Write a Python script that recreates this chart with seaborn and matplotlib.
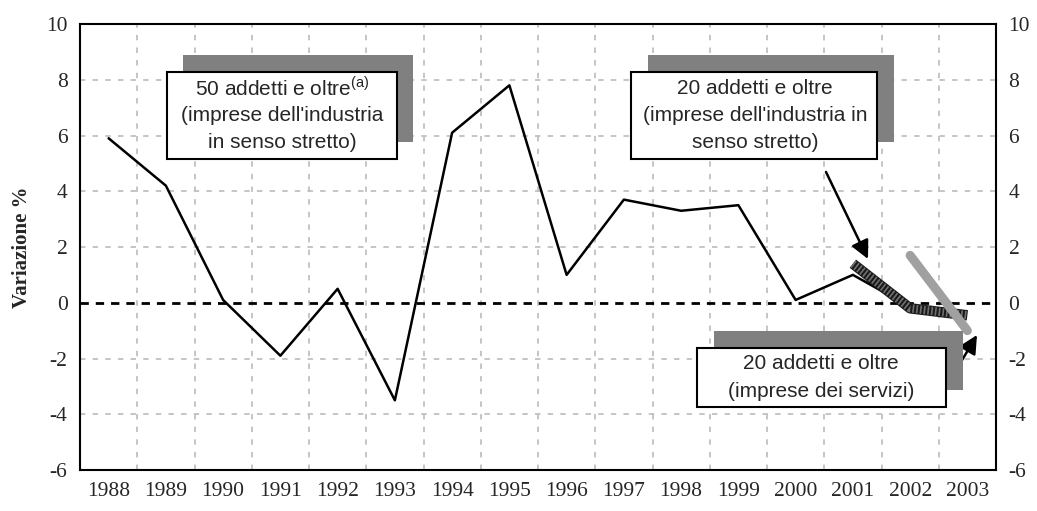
import numpy as np
import pandas as pd
import seaborn as sns
import matplotlib.pyplot as plt
from matplotlib.patches import Rectangle

# dati
anni = [1988, 1989, 1990, 1991, 1992, 1993, 1994, 1995, 1996, 1997, 1998, 1999, 2000, 2001, 2002]
var_50 = [5.9, 4.2, 0.1, -1.9, 0.5, -3.5, 6.1, 7.8, 1.0, 3.7, 3.3, 3.5, 0.1, 1.0, -0.15]
anni_20ind = [2001, 2002, 2003]
var_20ind = [1.4, -0.2, -0.45]
anni_20serv = [2002, 2003]
var_20serv = [1.7, -1.0]
tick_anni = list(range(1988, 2004))

W, H = 1037, 511
sns.set_style("white")
plt.rcParams['font.family'] = ['Liberation Serif', 'DejaVu Serif']
plt.rcParams['mathtext.fontset'] = 'custom'
plt.rcParams['mathtext.rm'] = 'Liberation Sans'
plt.rcParams['axes.unicode_minus'] = False

fig = plt.figure(figsize=(W / 100, H / 100), dpi=100)
ax = fig.add_axes([80 / W, 1 - 470 / H, (996 - 80) / W, (470 - 24) / H])

def px(x, y):
    # pixel dell'immagine -> frazione della figura
    return x / W, 1 - y / H

# griglia
for v in [-4, -2, 2, 4, 6, 8]:
    ax.axhline(v, color='#c0c0c0', lw=1.3, ls=(0, (3, 4)), zorder=0)
for a in np.arange(1988.5, 2003, 1):
    ax.axvline(a, color='#c0c0c0', lw=1.3, ls=(0, (3, 4)), zorder=0)
ax.axhline(0, color='black', lw=2, ls=(0, (3, 2.5)), zorder=1)

sns.lineplot(x=anni, y=var_50, color='black', lw=1.8, ax=ax, zorder=3)
sns.lineplot(x=anni_20ind, y=var_20ind, color='#1a1a1a', lw=7.5, ax=ax, zorder=4,
             solid_capstyle='butt')
ax.plot(anni_20ind, var_20ind, color='#707070', lw=6, ls=(0, (0.2, 0.25)),
        solid_capstyle='butt', zorder=5)
sns.lineplot(x=anni_20serv, y=var_20serv, color='#a0a0a0', lw=6.5, ax=ax, zorder=6,
             solid_capstyle='round')

ax.set_xlim(1987.5, 2003.5)
ax.set_ylim(-6, 10)
ax.set_xticks(tick_anni)
ax.set_xticklabels([str(a) for a in tick_anni], fontsize=15.5)
ax.set_yticks(range(-6, 11, 2))
ax.tick_params(axis='both', length=0, labelsize=15.5, pad=9)
ax.set_xlabel('')
ax.set_ylabel('Variazione %', fontsize=15, fontweight='bold', labelpad=10)
for s in ax.spines.values():
    s.set_linewidth(1.5)
    s.set_color('black')

ax2 = ax.twinx()
ax2.set_ylim(-6, 10)
ax2.set_yticks(range(-6, 11, 2))
ax2.tick_params(axis='y', length=0, labelsize=15.5, pad=9)
for s in ax2.spines.values():
    s.set_visible(False)

# riquadri con ombra
def riquadro(x0, y0, x1, y1, dx, dy):
    fx, fy = px(x0 + dx, y1 + dy)
    fig.patches.append(Rectangle((fx, fy), (x1 - x0) / W, (y1 - y0) / H,
                                 transform=fig.transFigure, facecolor='#808080',
                                 edgecolor='none', zorder=10))
    fx, fy = px(x0, y1)
    fig.patches.append(Rectangle((fx, fy), (x1 - x0) / W, (y1 - y0) / H,
                                 transform=fig.transFigure, facecolor='white',
                                 edgecolor='black', lw=1.5, zorder=11))

riquadro(167, 72, 397, 159, 16, -17)
riquadro(631, 72, 877, 159, 17, -17)
riquadro(697, 348, 946, 407, 17, -17)

fs = 15
def testo(x, y, s):
    fx, fy = px(x, y)
    fig.text(fx, fy, s, ha='center', va='center', fontsize=fs,
             family=['Liberation Sans', 'DejaVu Sans'], zorder=12)

testo(282, 88, r"50 addetti e oltre$^{\mathrm{(a)}}$")
testo(282, 115, "(imprese dell'industria")
testo(282, 142, "in senso stretto)")
testo(755, 88, "20 addetti e oltre")
testo(755, 115, "(imprese dell'industria in")
testo(755, 142, "senso stretto)")
testo(821, 363, "20 addetti e oltre")
testo(821, 391, "(imprese dei servizi)")

# frecce
for (x0, y0), (x1, y1) in [((826, 172), (868, 259)), ((943, 392), (977, 335))]:
    ax.annotate('', xy=px(x1, y1), xycoords='figure fraction',
                xytext=px(x0, y0), textcoords='figure fraction',
                arrowprops=dict(arrowstyle='-|>,head_length=1.1,head_width=0.55',
                                color='black', lw=1.8, shrinkA=0, shrinkB=0),
                zorder=13, annotation_clip=False)

fig.savefig('out.png', dpi=100)
